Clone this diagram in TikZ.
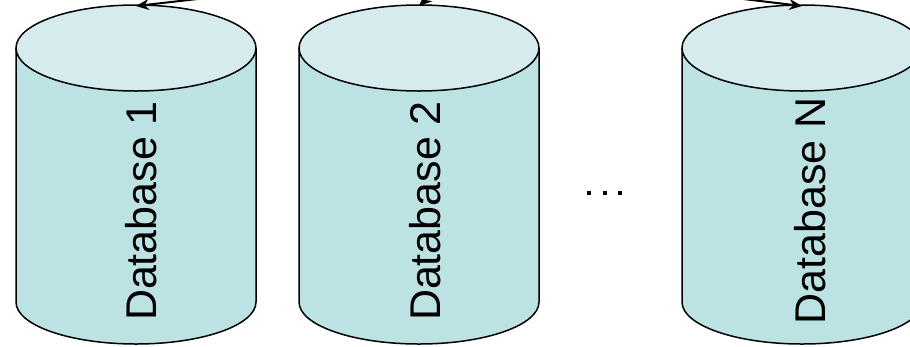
\documentclass[tikz,border=0pt]{standalone}
\usepackage{fontspec}
\setmainfont{Liberation Sans}
\usetikzlibrary{arrows.meta}
\definecolor{topfill}{HTML}{D5EBEE}
\definecolor{bodyfill}{HTML}{BDE2E4}
\tikzset{
  dbline/.style={draw=black, line width=1.5pt},
  dblabel/.style={rotate=90, font=\fontsize{43}{43}\selectfont, inner sep=0pt},
  feed/.style={draw=black, line width=2pt, -{Stealth[length=13pt,width=11pt]}},
  dotmark/.style={fill=black, minimum size=3.5pt, inner sep=0pt}
}
\newcommand{\dbcyl}[4]{% name, cx, ytop-center, ybot-center
  \fill[bodyfill] (#2-120,#3) -- (#2-120,#4) arc[start angle=180,end angle=0,x radius=120,y radius=42] -- (#2+120,#3) -- cycle;
  \draw[dbline] (#2-120,#3) -- (#2-120,#4) arc[start angle=180,end angle=0,x radius=120,y radius=42] -- (#2+120,#3);
  \draw[dbline, fill=topfill] (#2,#3) ellipse[x radius=120, y radius=43];
  \coordinate (#1top) at (#2,#3-42);
}
\begin{document}
\begin{tikzpicture}[x=1pt,y=-1pt]
\useasboundingbox (0,0) rectangle (910,346);
\clip (0,0) rectangle (910,346);
\dbcyl{a}{136}{48}{302}
\dbcyl{b}{419}{48}{302}
\dbcyl{c}{802}{48}{302}
\node[dblabel] (la) at (141,211) {Database 1};
\node[dblabel] (lb) at (425,211) {Database 2};
\node[dblabel] (lc) at (810,211) {Database N};
\node[dotmark] (d1) at (589,193) {};
\node[dotmark] (d2) at (605,193) {};
\node[dotmark] (d3) at (620,193) {};
\coordinate (sa) at (215,-3);
\coordinate (sb) at (445,-18);
\coordinate (sc) at (735,-2);
\draw[feed] (sa) -- (atop);
\draw[feed] (sb) -- (btop);
\draw[feed] (sc) -- (ctop);
\end{tikzpicture}
\end{document}
